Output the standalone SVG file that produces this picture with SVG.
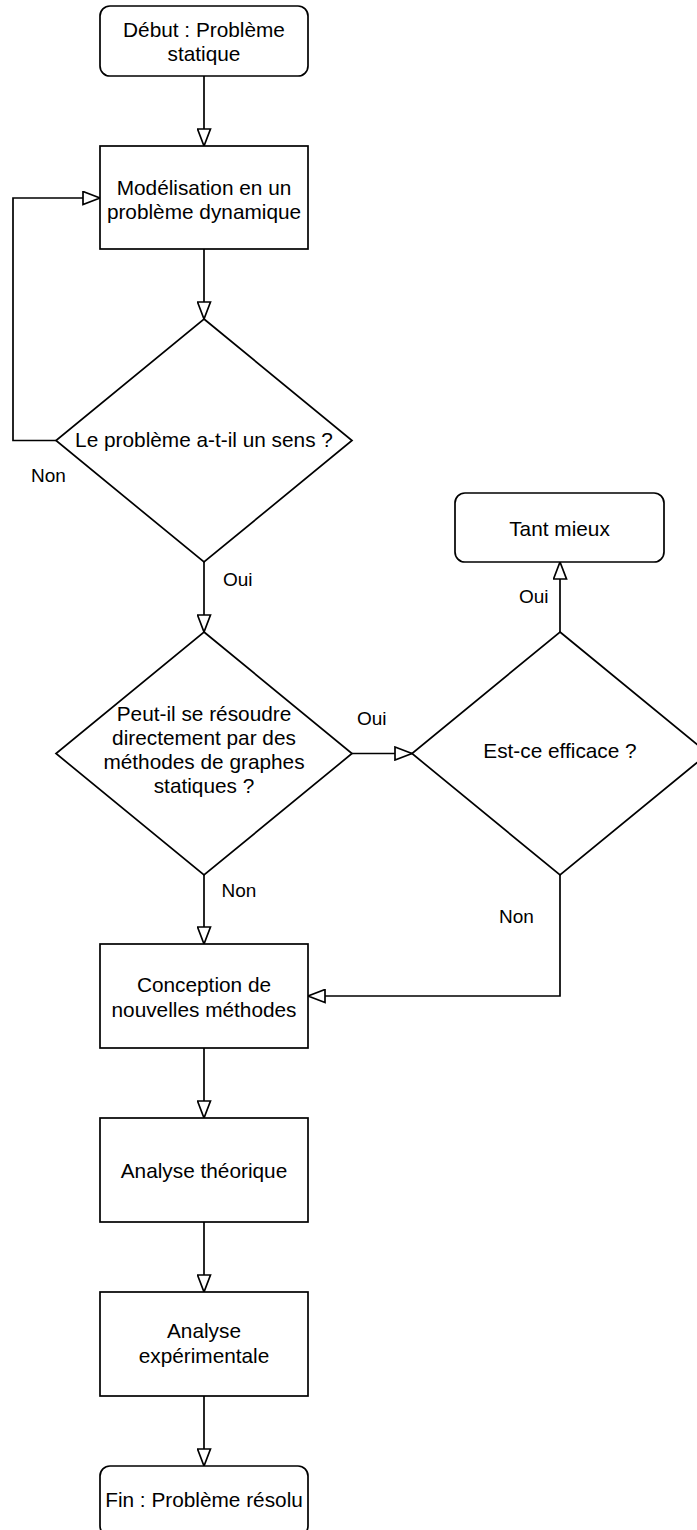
<svg xmlns="http://www.w3.org/2000/svg" width="697" height="1530" viewBox="0 0 697 1530">
  <style>
    .shape { fill: #ffffff; stroke: #000000; stroke-width: 1.7; }
    .edge { fill: none; stroke: #000000; stroke-width: 1.7; marker-end: url(#open); }
    .t { font-family: "Liberation Sans", Arial, Helvetica, sans-serif; font-size: 20.8px; fill: #000000; text-anchor: middle; }
    .lbl { font-family: "Liberation Sans", Arial, Helvetica, sans-serif; font-size: 19px; fill: #000000; text-anchor: start; }
  </style>
  <defs>
    <marker id="open" viewBox="0 0 19 15" refX="18" refY="7.5" markerWidth="19" markerHeight="15" markerUnits="userSpaceOnUse" orient="auto">
      <path d="M1,1 L18,7.5 L1,14 Z" fill="#ffffff" stroke="#000000" stroke-width="1.7" stroke-linejoin="miter"/>
    </marker>
  </defs>
  <rect width="697" height="1530" fill="#ffffff"/>

  <g id="connectors">
    <path class="edge" d="M204,76 L204,146"/>
    <path class="edge" d="M204,249 L204,319"/>
    <path class="edge" d="M56,440.5 L13,440.5 L13,198 L100,198"/>
    <path class="edge" d="M204,562 L204,632"/>
    <path class="edge" d="M352,753.5 L412,753.5"/>
    <path class="edge" d="M560,632 L560,562"/>
    <path class="edge" d="M560,875 L560,996 L308,996"/>
    <path class="edge" d="M204,875 L204,944"/>
    <path class="edge" d="M204,1048 L204,1118"/>
    <path class="edge" d="M204,1222 L204,1292"/>
    <path class="edge" d="M204,1396 L204,1466"/>
  </g>

  <g id="labels">
    <text class="lbl" x="31" y="482">Non</text>
    <text class="lbl" x="223" y="586">Oui</text>
    <text class="lbl" x="357" y="725">Oui</text>
    <text class="lbl" x="519" y="602.7">Oui</text>
    <text class="lbl" x="499" y="923.3">Non</text>
    <text class="lbl" x="221.5" y="897.3">Non</text>
  </g>

  <g id="start">
    <rect class="shape" x="100" y="6" width="208" height="70" rx="10" ry="10"/>
    <text class="t" x="204" y="36.7">Début : Problème</text>
    <text class="t" x="204" y="61">statique</text>
  </g>

  <g id="modelisation">
    <rect class="shape" x="100" y="146" width="208" height="103"/>
    <text class="t" x="204" y="195">Modélisation en un</text>
    <text class="t" x="204" y="219">problème dynamique</text>
  </g>

  <g id="sens">
    <polygon class="shape" points="204,319 352,440.5 204,562 56,440.5"/>
    <text class="t" x="204" y="446.5">Le problème a-t-il un sens ?</text>
  </g>

  <g id="resoudre">
    <polygon class="shape" points="204,632 352,753.5 204,875 56,753.5"/>
    <text class="t" x="204" y="720.7">Peut-il se résoudre</text>
    <text class="t" x="204" y="744.7">directement par des</text>
    <text class="t" x="204" y="768.7">méthodes de graphes</text>
    <text class="t" x="204" y="792.7">statiques ?</text>
  </g>

  <g id="efficace">
    <polygon class="shape" points="560,632 708,753.5 560,875 412,753.5"/>
    <text class="t" x="560" y="758.3">Est-ce efficace ?</text>
  </g>

  <g id="tantmieux">
    <rect class="shape" x="455" y="493" width="209" height="69" rx="10" ry="10"/>
    <text class="t" x="559.5" y="536">Tant mieux</text>
  </g>

  <g id="conception">
    <rect class="shape" x="100" y="944" width="208" height="104"/>
    <text class="t" x="204" y="991.7">Conception de</text>
    <text class="t" x="204" y="1016.7">nouvelles méthodes</text>
  </g>

  <g id="theorique">
    <rect class="shape" x="100" y="1118" width="208" height="104"/>
    <text class="t" x="204" y="1177.5">Analyse théorique</text>
  </g>

  <g id="experimentale">
    <rect class="shape" x="100" y="1292" width="208" height="104"/>
    <text class="t" x="204" y="1338.3">Analyse</text>
    <text class="t" x="204" y="1363.3">expérimentale</text>
  </g>

  <g id="fin">
    <rect class="shape" x="100" y="1466" width="208" height="70" rx="10" ry="10"/>
    <text class="t" x="204" y="1507.3">Fin : Problème résolu</text>
  </g>
</svg>
